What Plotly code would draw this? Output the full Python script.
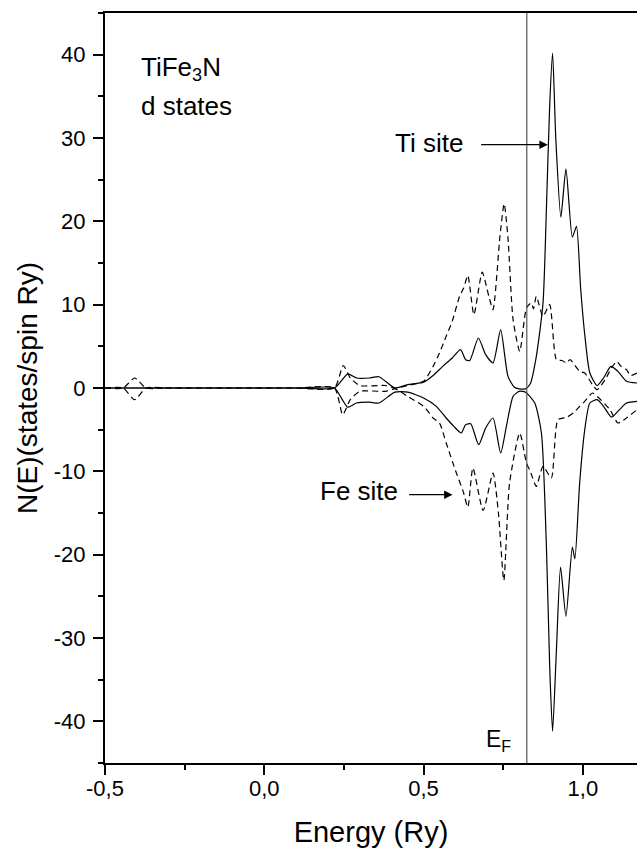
import plotly.graph_objects as go

# ---------------- data ----------------
# Ti site d states, spin up (solid, positive)
ti_up_E = [-0.5, -0.3, -0.1, 0.1, 0.22, 0.245, 0.262, 0.29, 0.33, 0.36, 0.41, 0.45, 0.50, 0.53, 0.56, 0.59, 0.616, 0.632, 0.645,
           0.672, 0.695, 0.718, 0.742, 0.765, 0.785, 0.80, 0.82, 0.835, 0.854, 0.875, 0.886,
           0.896, 0.905, 0.915, 0.931, 0.947, 0.967, 0.98, 0.993, 1.006, 1.022, 1.045, 1.065,
           1.088, 1.11, 1.137, 1.17]
ti_up_N = [0.0, 0.0, 0.0, 0.0, 0.0, 1.0, 1.7, 1.2, 1.2, 1.35, 0.0, 0.4, 0.7, 1.5, 2.6, 3.6, 4.6, 3.4, 3.3,
           6.0, 4.0, 3.0, 7.0, 1.4, 0.1, -0.1, -0.1, 0.5, 3.8, 10.2, 22.0,
           34.0, 40.2, 30.0, 20.5, 26.3, 18.1, 19.4, 12.0, 6.4, 1.8, 0.3, 1.2,
           2.6, 2.0, 0.8, 0.6]

# Ti site d states, spin down (solid, negative)
ti_dn_E = [-0.5, -0.3, -0.1, 0.1, 0.22, 0.245, 0.262, 0.29, 0.33, 0.36, 0.41, 0.45, 0.50, 0.54, 0.571, 0.595, 0.618, 0.632, 0.648,
           0.673, 0.695, 0.718, 0.742, 0.76, 0.781, 0.80, 0.82, 0.849, 0.87, 0.886, 0.896,
           0.905, 0.917, 0.930, 0.947, 0.967, 0.975, 0.99, 1.006, 1.022, 1.045, 1.065, 1.09,
           1.115, 1.137, 1.17]
ti_dn_N = [0.0, 0.0, 0.0, 0.0, 0.0, -1.4, -2.3, -1.8, -1.7, -1.8, -0.5, -0.5, -1.2, -2.2, -3.6, -4.6, -5.4, -4.4, -4.3,
           -6.8, -4.8, -3.6, -7.8, -4.6, -1.0, -0.4, -0.5, -1.8, -5.4, -19.5, -33.5,
           -41.2, -31.5, -21.5, -27.4, -19.1, -20.5, -11.4, -5.0, -1.8, -1.4, -2.2, -3.5,
           -2.6, -1.8, -1.6]

# Fe site d states, spin up (dashed, positive)
fe_up_E = [-0.5, -0.443, -0.407, -0.371, -0.3, -0.1, 0.1, 0.22, 0.248, 0.27, 0.30, 0.38, 0.41, 0.45, 0.50, 0.53,
           0.55, 0.571, 0.59, 0.613, 0.626, 0.639, 0.658, 0.684, 0.705, 0.718, 0.74, 0.753,
           0.765, 0.781, 0.802, 0.823, 0.838, 0.845, 0.854, 0.875, 0.896, 0.917, 0.935, 0.948,
           0.96, 0.99, 1.006, 1.03, 1.045, 1.07, 1.09, 1.106, 1.12, 1.137, 1.15, 1.17]
fe_up_N = [0.0, 0.0, 1.2, 0.0, 0.0, 0.0, 0.0, 0.0, 2.7, 1.2, 0.3, 0.3, 0.0, 0.3, 0.8, 2.6,
           4.2, 6.2, 8.0, 11.0, 12.0, 13.5, 8.8, 13.9, 11.0, 9.4, 18.3, 22.1,
           18.0, 8.2, 4.4, 9.6, 10.2, 9.5, 11.0, 8.6, 10.0, 3.4, 3.3, 3.0,
           3.4, 2.0, 1.8, 0.4, -0.2, 1.0, 2.4, 3.2, 2.6, 2.2, 1.5, 1.8]

# Fe site d states, spin down (dashed, negative)
fe_dn_E = [-0.5, -0.443, -0.407, -0.371, -0.3, -0.1, 0.1, 0.22, 0.246, 0.27, 0.30, 0.38, 0.41, 0.45, 0.50, 0.53,
           0.55, 0.571, 0.603, 0.625, 0.639, 0.655, 0.687, 0.718, 0.735, 0.752, 0.77, 0.802,
           0.823, 0.835, 0.854, 0.875, 0.901, 0.922, 0.95, 0.97, 0.99, 1.006, 1.03, 1.045,
           1.085, 1.11, 1.137, 1.17]
fe_dn_N = [0.0, 0.0, -1.4, 0.0, 0.0, 0.0, 0.0, 0.0, -3.2, -1.4, -0.4, -0.4, -0.1, -1.0, -2.2, -3.6,
           -4.2, -6.6, -10.2, -12.5, -14.3, -9.6, -14.7, -10.2, -15.0, -23.1, -11.4, -5.4,
           -9.0, -10.0, -11.8, -9.4, -10.8, -3.8, -3.5, -3.0, -2.2, -1.6, -0.6, -1.0,
           -2.6, -4.2, -3.6, -2.6]

fermi_energy = 0.824

x_tickvals = [-0.5, 0.0, 0.5, 1.0]
x_ticktext = ["-0,5", "0,0", "0,5", "1,0"]
y_tickvals = [-40, -30, -20, -10, 0, 10, 20, 30, 40]
y_ticktext = ["-40", "-30", "-20", "-10", "0", "10", "20", "30", "40"]

# ---------------- figure ----------------
FONT = "Liberation Sans, Arial, sans-serif"
fig = go.Figure()

line_solid = dict(color="black", width=1.2, shape="spline", smoothing=0.6)
line_dash = dict(color="black", width=1.2, dash="6px,4px", shape="spline", smoothing=0.6)

fig.add_trace(go.Scatter(x=ti_up_E, y=ti_up_N, mode="lines", line=line_solid, name="Ti up"))
fig.add_trace(go.Scatter(x=ti_dn_E, y=ti_dn_N, mode="lines", line=line_solid, name="Ti down"))
fig.add_trace(go.Scatter(x=fe_up_E, y=fe_up_N, mode="lines", line=line_dash, name="Fe up"))
fig.add_trace(go.Scatter(x=fe_dn_E, y=fe_dn_N, mode="lines", line=line_dash, name="Fe down"))

# Fermi level
fig.add_shape(type="line", xref="x", yref="y", x0=fermi_energy, x1=fermi_energy,
              y0=-45, y1=45, line=dict(color="#555555", width=1.2))

# annotations
fig.add_annotation(x=-0.393, y=38.3, xref="x", yref="y", text="TiFe<sub>3</sub>N",
                   showarrow=False, xanchor="left", yanchor="middle",
                   font=dict(family=FONT, size=26, color="black"))
fig.add_annotation(x=-0.393, y=33.8, xref="x", yref="y", text="d states",
                   showarrow=False, xanchor="left", yanchor="middle",
                   font=dict(family=FONT, size=26, color="black"))
fig.add_annotation(x=0.405, y=29.4, xref="x", yref="y", text="Ti site",
                   showarrow=False, xanchor="left", yanchor="middle",
                   font=dict(family=FONT, size=26, color="black"))
fig.add_annotation(x=0.890, y=29.2, ax=0.676, ay=29.2, xref="x", yref="y",
                   axref="x", ayref="y", text="", showarrow=True,
                   arrowhead=2, arrowsize=1.3, arrowwidth=1.3, arrowcolor="black")
fig.add_annotation(x=0.168, y=-12.4, xref="x", yref="y", text="Fe site",
                   showarrow=False, xanchor="left", yanchor="middle",
                   font=dict(family=FONT, size=26, color="black"))
fig.add_annotation(x=0.591, y=-12.8, ax=0.450, ay=-12.8, xref="x", yref="y",
                   axref="x", ayref="y", text="", showarrow=True,
                   arrowhead=2, arrowsize=1.3, arrowwidth=1.3, arrowcolor="black")
fig.add_annotation(x=0.78, y=-42.3, xref="x", yref="y", text="E<sub>F</sub>",
                   showarrow=False, xanchor="right", yanchor="middle",
                   font=dict(family=FONT, size=23, color="black"))

fig.update_layout(
    width=637, height=848,
    margin=dict(l=105, r=0, t=13, b=85, autoexpand=False),
    paper_bgcolor="white", plot_bgcolor="white",
    showlegend=False,
    font=dict(family=FONT, color="black"),
)

fig.update_xaxes(
    range=[-0.5, 1.17], showgrid=False, zeroline=False, automargin=False,
    showline=True, linecolor="black", linewidth=2, mirror=True,
    ticks="outside", ticklen=10, tickwidth=1.5, tickcolor="black",
    tickvals=x_tickvals, ticktext=x_ticktext,
    tickfont=dict(family=FONT, size=22, color="black"),
    minor=dict(ticks="outside", ticklen=5, tickwidth=1.5, tickcolor="black", dtick=0.25, tick0=-0.5),
    ticklabelstandoff=-5,
    title=dict(text="Energy (Ry)", font=dict(family=FONT, size=29, color="black"), standoff=22),
)
fig.update_yaxes(
    range=[-45, 45], showgrid=False, zeroline=False, automargin=False,
    showline=True, linecolor="black", linewidth=2, mirror=False,
    ticks="outside", ticklen=10, tickwidth=1.5, tickcolor="black",
    tickvals=y_tickvals, ticktext=y_ticktext,
    tickfont=dict(family=FONT, size=22, color="black"),
    minor=dict(ticks="outside", ticklen=5, tickwidth=1.5, tickcolor="black", dtick=5, tick0=0),
    ticklabelstandoff=3,
    title=dict(text="N(E)(states/spin Ry)", font=dict(family=FONT, size=28, color="black"), standoff=8),
)

fig.write_html("out.html", config={"displayModeBar": False},
               post_script="document.body.style.margin='0px';document.body.style.overflow='hidden';")
